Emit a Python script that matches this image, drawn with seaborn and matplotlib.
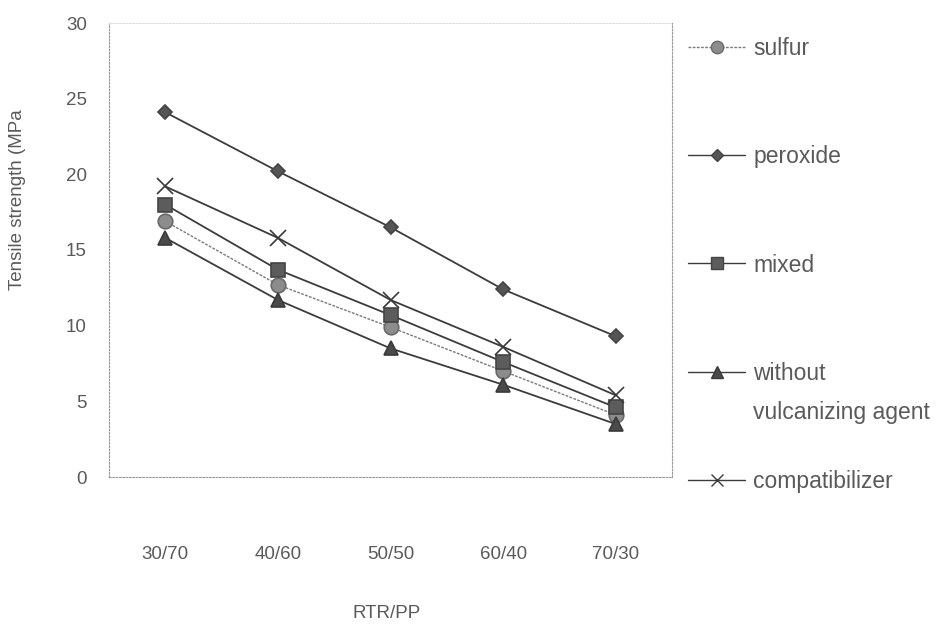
import pandas as pd
import seaborn as sns
import matplotlib.pyplot as plt
from matplotlib.lines import Line2D

# data
ratios = ["30/70", "40/60", "50/50", "60/40", "70/30"]
sulfur = [16.9, 12.7, 9.9, 7.0, 4.1]
peroxide = [24.1, 20.2, 16.5, 12.4, 9.3]
mixed = [18.0, 13.7, 10.7, 7.6, 4.6]
without_agent = [15.8, 11.7, 8.5, 6.1, 3.5]
compatibilizer = [19.2, 15.8, 11.7, 8.6, 5.4]

series_names = ["sulfur", "peroxide", "mixed", "without", "compatibilizer"]
series_values = [sulfur, peroxide, mixed, without_agent, compatibilizer]

rows = []
for name, vals in zip(series_names, series_values):
    for r, v in zip(ratios, vals):
        rows.append({"ratio": r, "ts": v, "series": name})
df = pd.DataFrame(rows)

sns.set_theme(style="white")
plt.rcParams['font.family'] = ['Liberation Sans', 'DejaVu Sans']

txt = "#5a5a5a"
line_c = "#3c3c3c"
styles = {
    "sulfur": dict(marker="o", color="#7a7a7a", ls=(0, (2, 1)), lw=1.0, mfc="#8c8c8c", mec="#6a6a6a", ms=10.5),
    "peroxide": dict(marker="D", color=line_c, ls="-", lw=1.3, mfc="#555555", mec="#444444", ms=7.5),
    "mixed": dict(marker="s", color=line_c, ls="-", lw=1.3, mfc="#5c5c5c", mec="#444444", ms=9.5),
    "without": dict(marker="^", color=line_c, ls="-", lw=1.3, mfc="#4a4a4a", mec="#3a3a3a", ms=9.5),
    "compatibilizer": dict(marker="x", color=line_c, ls="-", lw=1.3, mfc=line_c, mec="#3a3a3a", ms=11),
}

fig = plt.figure(figsize=(9.44, 6.27), dpi=100)
ax = fig.add_axes([109 / 944, 1 - 477 / 627, (672 - 109) / 944, (477 - 23) / 627])

for name in series_names:
    st = styles[name]
    sns.lineplot(data=df[df.series == name], x="ratio", y="ts", ax=ax,
                 color=st["color"], linestyle=st["ls"], linewidth=st["lw"],
                 marker=st["marker"], markersize=st["ms"],
                 markerfacecolor=st["mfc"], markeredgecolor=st["mec"],
                 markeredgewidth=1.2, legend=False, zorder=3)

ax.set_xlim(-0.5, 4.5)
ax.set_ylim(0, 30)
ax.set_yticks(range(0, 31, 5))
ax.tick_params(axis="both", length=0, labelsize=13.5, labelcolor=txt)
ax.tick_params(axis="x", pad=50)
ax.tick_params(axis="y", pad=16)
ax.set_xlabel("RTR/PP", fontsize=13.5, color=txt)
ax.xaxis.set_label_coords(0.493, -0.283)
ax.set_ylabel("Tensile strength (MPa", fontsize=13.5, color=txt)
ax.yaxis.set_label_coords(-0.147, 0.61)

for side, sp in ax.spines.items():
    sp.set_visible(True)
    sp.set_linestyle((0, (1.5, 1.5)))
    sp.set_linewidth(0.8)
    sp.set_color("#999999" if side != "top" else "#dddddd")

handles = []
for name in series_names:
    st = styles[name]
    handles.append(Line2D([], [], color=st["color"], linestyle=st["ls"], linewidth=1.0,
                          marker=st["marker"], markersize=st["ms"] * 0.85,
                          markerfacecolor=st["mfc"], markeredgecolor=st["mec"]))

fig.legend(handles, series_names, loc="upper left",
           bbox_to_anchor=(688 / 944, 1 - 37 / 627), frameon=False,
           fontsize=16.5, labelcolor=txt, handlelength=2.5, handletextpad=0.35,
           labelspacing=3.72, borderpad=0, borderaxespad=0)
fig.text(753 / 944, 1 - 412 / 627, "vulcanizing agent", fontsize=16.5,
         color=txt, va="center", ha="left")

fig.savefig("out.png", dpi=100)
